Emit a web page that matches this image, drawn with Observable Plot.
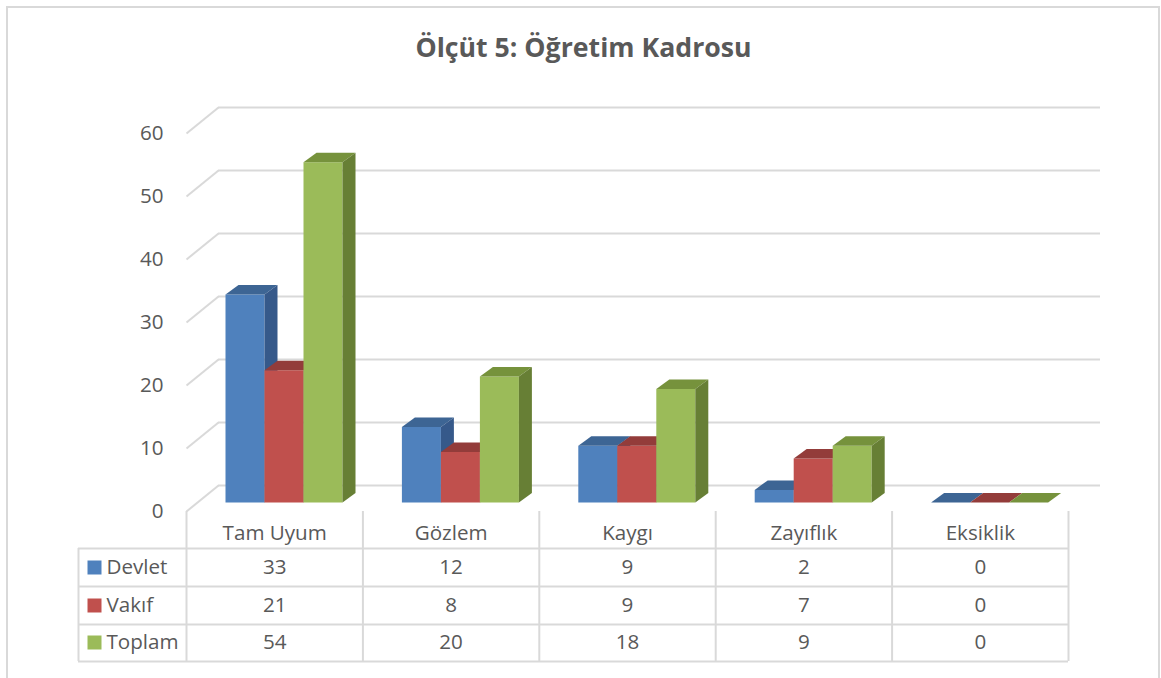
<!DOCTYPE html>
<html><head><meta charset="utf-8">
<script src="https://cdn.jsdelivr.net/npm/d3@7"></script>
<script src="https://cdn.jsdelivr.net/npm/@observablehq/plot@0.6"></script>
<style>body{margin:0;background:#fff;} svg{display:block;}</style>
</head><body><div id="chart"></div>
<script>
const chartTitle = "Ölçüt 5: Öğretim Kadrosu";
const categories = ["Tam Uyum", "Gözlem", "Kaygı", "Zayıflık", "Eksiklik"];
const seriesNames = ["Devlet", "Vakıf", "Toplam"];
const devlet = [33, 12, 9, 2, 0];
const vakif = [21, 8, 9, 7, 0];
const toplam = [54, 20, 18, 9, 0];
const yTicks = [0, 10, 20, 30, 40, 50, 60];

const frontColors = ["#4F81BD", "#C0504D", "#9BBB59"];
const topColors = ["#3D6594", "#933C3A", "#76923C"];
const sideColors = ["#36598A", "#843533", "#677F35"];

const W = 1161, H = 678;
const X0 = 186, X1 = 1068, Y0 = 511, Y60 = 133;
const xs = (X1 - X0) / categories.length;
const ys = (Y0 - Y60) / 60;
const px = p => (p - X0) / xs;
const py = p => (Y0 - p) / ys;

// depth vectors (pixels -> data units)
const WX = 32 / xs, WY = 26 / ys;     // wall depth
const BX = 12 / xs, BY = 9 / ys;      // bar plane offset
const DX = 13 / xs, DY = 9.5 / ys;    // bar depth
const gapL = 27 / xs, bw = 39 / xs;

const values = [devlet, vakif, toplam];
const faces = [];
categories.forEach((c, ci) => {
  seriesNames.forEach((s, si) => {
    const v = values[si][ci];
    const x1 = ci + gapL + si * bw + BX, x2 = x1 + bw;
    const y0 = BY, yv = v + BY;
    const id = c + "-" + s;
    [[x1, y0], [x2, y0], [x2, yv], [x1, yv]].forEach(([x, y]) => faces.push({id: id + "f", x, y, color: frontColors[si]}));
    [[x1, yv], [x2, yv], [x2 + DX, yv + DY], [x1 + DX, yv + DY]].forEach(([x, y]) => faces.push({id: id + "t", x, y, color: topColors[si]}));
    [[x2, y0], [x2 + DX, y0 + DY], [x2 + DX, yv + DY], [x2, yv]].forEach(([x, y]) => faces.push({id: id + "s", x, y, color: sideColors[si]}));
  });
});

const grid = "#D9D9D9";
const txt = "#595959";
const font = "'Open Sans', sans-serif";
const fs = 20.6;
const rowY = [py(567), py(605), py(642)];
const hLines = [548, 586, 624, 661].map(py);

const tableCells = [];
seriesNames.forEach((s, si) => categories.forEach((c, ci) => tableCells.push({x: ci + 0.5, y: rowY[si], t: String(values[si][ci])})));

const plot = Plot.plot({
  width: W, height: H,
  marginTop: 0, marginBottom: 0, marginLeft: 0, marginRight: 0,
  x: {domain: [0, categories.length], range: [X0, X1], axis: null},
  y: {domain: [0, 60], range: [Y0, Y60], axis: null},
  color: {type: "identity"},
  style: {fontFamily: font, background: "#fff"},
  marks: [
    // outer border
    Plot.rect([0], {x1: px(7), x2: px(1159), y1: py(7), y2: py(700), fill: "none", stroke: grid, strokeWidth: 2}),
    // back wall gridlines
    Plot.ruleY(yTicks, {x1: WX, x2: categories.length + WX, y: d => d + WY, stroke: grid, strokeWidth: 2}),
    // side wall gridlines
    Plot.link(yTicks, {x1: 0, y1: d => d, x2: WX, y2: d => d + WY, stroke: grid, strokeWidth: 2}),
    // y labels
    Plot.text(yTicks, {x: px(163), y: d => d, text: d => String(d), textAnchor: "end", fontSize: fs, fill: txt}),
    // bars
    Plot.line(faces, {x: "x", y: "y", z: "id", fill: "color", stroke: "none", curve: "linear-closed"}),
    // table lines
    Plot.ruleX(d3.range(categories.length + 1), {y1: 0, y2: py(661), stroke: grid, strokeWidth: 2}),
    Plot.ruleY(hLines, {x1: px(78), x2: categories.length, stroke: grid, strokeWidth: 2}),
    Plot.ruleX([px(78)], {y1: py(548), y2: py(661), stroke: grid, strokeWidth: 2}),
    // table text
    Plot.text(categories, {x: (d, i) => i + 0.5, y: py(533), text: d => d, fontSize: fs, fill: txt}),
    Plot.text(tableCells, {x: "x", y: "y", text: "t", fontSize: fs, fill: txt}),
    Plot.text(seriesNames, {x: px(106), y: (d, i) => rowY[i], text: d => d, textAnchor: "start", fontSize: fs, fill: txt}),
    Plot.dot(seriesNames, {x: px(94), y: (d, i) => rowY[i], symbol: "square", r: 7.9, fill: (d, i) => frontColors[i], stroke: "none"}),
    // title
    Plot.text([chartTitle], {x: px(583), y: py(48), text: d => d, fontSize: 26.7, fontWeight: "bold", fill: txt})
  ]
});
document.getElementById("chart").appendChild(plot);
</script>
</body></html>
